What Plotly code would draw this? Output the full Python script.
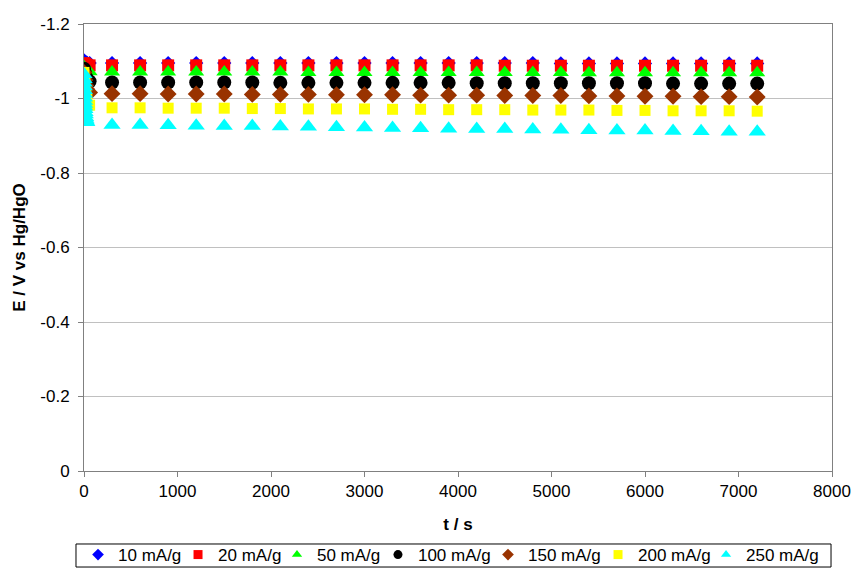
import plotly.graph_objects as go

# Time points (s): early transient samples, then the regular 300 s readings
t_early = [0, 10, 20, 30, 60]
t_main = [300, 600, 900, 1200, 1500, 1800, 2100, 2400, 2700, 3000, 3300, 3600,
          3900, 4200, 4500, 4800, 5100, 5400, 5700, 6000, 6300, 6600, 6900, 7200]
t_early_250 = [0, 1, 2, 3, 4, 5, 6, 7, 8, 9, 10, 12, 14, 17, 20, 25, 30]

labels = ["10 mA/g", "20 mA/g", "50 mA/g", "100 mA/g", "150 mA/g", "200 mA/g", "250 mA/g"]

# Potential (V vs Hg/HgO)
e10_early = [-1.102, -1.099, -1.097, -1.096, -1.095]
e10_main = [-1.095, -1.095, -1.095, -1.095, -1.095, -1.095, -1.095, -1.095, -1.095, -1.095, -1.095, -1.095,
            -1.095, -1.095, -1.095, -1.095, -1.094, -1.094, -1.094, -1.094, -1.094, -1.094, -1.094, -1.094]
e20_early = [-1.095, -1.093, -1.091, -1.090, -1.089]
e20_main = [-1.089, -1.089, -1.089, -1.089, -1.089, -1.089, -1.089, -1.089, -1.089, -1.089, -1.089, -1.089,
            -1.089, -1.089, -1.088, -1.088, -1.088, -1.088, -1.088, -1.088, -1.088, -1.088, -1.088, -1.088]
e50_early = [-1.085, -1.080, -1.076, -1.074, -1.072]
e50_main = [-1.071, -1.071, -1.071, -1.071, -1.071, -1.071, -1.071, -1.070, -1.070, -1.070, -1.070, -1.070,
            -1.070, -1.070, -1.070, -1.070, -1.070, -1.069, -1.069, -1.069, -1.069, -1.069, -1.069, -1.069]
e100_early = [-1.080, -1.068, -1.058, -1.052, -1.046]
e100_main = [-1.043, -1.043, -1.043, -1.043, -1.043, -1.043, -1.042, -1.042, -1.042, -1.042, -1.042, -1.042,
             -1.042, -1.041, -1.041, -1.041, -1.041, -1.041, -1.041, -1.041, -1.040, -1.040, -1.040, -1.040]
e150_early = [-1.070, -1.050, -1.035, -1.025, -1.016]
e150_main = [-1.013, -1.013, -1.012, -1.012, -1.012, -1.011, -1.011, -1.011, -1.010, -1.010, -1.010, -1.009,
             -1.009, -1.009, -1.008, -1.008, -1.008, -1.007, -1.007, -1.006, -1.006, -1.005, -1.005, -1.004]
e200_early = [-1.070, -1.045, -1.015, -0.998, -0.982]
e200_main = [-0.975, -0.975, -0.974, -0.974, -0.974, -0.973, -0.973, -0.972, -0.972, -0.972, -0.971, -0.971,
             -0.970, -0.970, -0.970, -0.969, -0.969, -0.969, -0.968, -0.968, -0.967, -0.967, -0.967, -0.966]
e250_early = [-1.065, -1.052, -1.042, -1.032, -1.022, -1.012, -1.002, -0.993, -0.985, -0.978, -0.971,
              -0.963, -0.957, -0.950, -0.945, -0.940, -0.936]
e250_main = [-0.929, -0.929, -0.928, -0.927, -0.926, -0.926, -0.925, -0.924, -0.923, -0.922, -0.921, -0.920,
             -0.919, -0.918, -0.918, -0.917, -0.916, -0.915, -0.914, -0.914, -0.913, -0.912, -0.911, -0.911]

x_ticks = [0, 1000, 2000, 3000, 4000, 5000, 6000, 7000, 8000]
y_ticks = [0, -0.2, -0.4, -0.6, -0.8, -1.0, -1.2]
y_tick_text = ["0", "-0.2", "-0.4", "-0.6", "-0.8", "-1", "-1.2"]

series = [
    (t_early + t_main, e10_early + e10_main, "diamond", "#0000FF", 11),
    (t_early + t_main, e20_early + e20_main, "square", "#FF0000", 12),
    (t_early + t_main, e50_early + e50_main, "triangle-up", "#00FF00", 14),
    (t_early + t_main, e100_early + e100_main, "circle", "#000000", 14),
    (t_early + t_main, e150_early + e150_main, "diamond", "#993300", 13),
    (t_early + t_main, e200_early + e200_main, "square", "#FFFF00", 11),
    (t_early_250 + t_main, e250_early + e250_main, "triangle-up", "#00FFFF", 15),
]

# left edge (paper fraction) of each legend entry along the bottom row
legend_x = [-0.0080, 0.1257, 0.2580, 0.3930, 0.5401, 0.6872, 0.8316]

FONT = "Liberation Sans, Arial, sans-serif"
PLOT_L, PLOT_W = 84, 748

fig = go.Figure()
for name, (xs, ys, sym, col, size) in zip(labels, series):
    fig.add_trace(go.Scatter(
        x=xs, y=ys, mode="markers", name=name, showlegend=False,
        marker=dict(symbol=sym, color=col, size=size, line=dict(width=0)),
    ))

# one legend box per entry so each key sits at its own spot in the row
legend_layouts = {}
for i, (name, (xs, ys, sym, col, size)) in enumerate(zip(labels, series)):
    lid = "legend" if i == 0 else f"legend{i + 1}"
    fig.add_trace(go.Scatter(
        x=[None], y=[None], mode="markers", name=name, showlegend=True, legend=lid,
        marker=dict(symbol=sym, color=col, size=9, line=dict(width=0)),
    ))
    legend_layouts[lid] = dict(
        orientation="h", x=legend_x[i], xanchor="left", y=-0.1477, yanchor="top",
        borderwidth=0, bgcolor="rgba(0,0,0,0)",
        font=dict(family=FONT, size=17), itemwidth=30,
    )

# frame drawn around the legend row
fig.add_shape(
    type="rect", xref="paper", yref="paper",
    x0=-0.0107, x1=0.9987, y0=-0.2148, y1=-0.1633,
    line=dict(color="black", width=1), fillcolor="rgba(0,0,0,0)", layer="above",
)

fig.update_layout(
    width=854, height=568,
    margin=dict(l=84, r=22, t=24, b=97, autoexpand=False),
    paper_bgcolor="white", plot_bgcolor="white",
    font=dict(family=FONT, size=17, color="black"),
    showlegend=True,
    xaxis=dict(
        range=[0, 8000], tickvals=x_ticks, ticktext=[str(v) for v in x_ticks],
        showgrid=False, zeroline=False,
        showline=True, linecolor="#808080", linewidth=1, mirror=True,
        ticks="outside", ticklen=5, tickcolor="#808080",
        title=dict(text="<b>t / s</b>", font=dict(family=FONT, size=17), standoff=17),
    ),
    yaxis=dict(
        range=[0, -1.2], tickvals=y_ticks, ticktext=y_tick_text,
        showgrid=True, gridcolor="#C0C0C0", gridwidth=1, zeroline=False,
        showline=True, linecolor="#808080", linewidth=1, mirror=True,
        ticks="outside", ticklen=5, tickcolor="#808080", ticklabelstandoff=5,
        title=dict(text="<b>E / V vs Hg/HgO</b>", font=dict(family=FONT, size=17), standoff=10),
    ),
    **legend_layouts,
)

fig.write_html("out.html")
